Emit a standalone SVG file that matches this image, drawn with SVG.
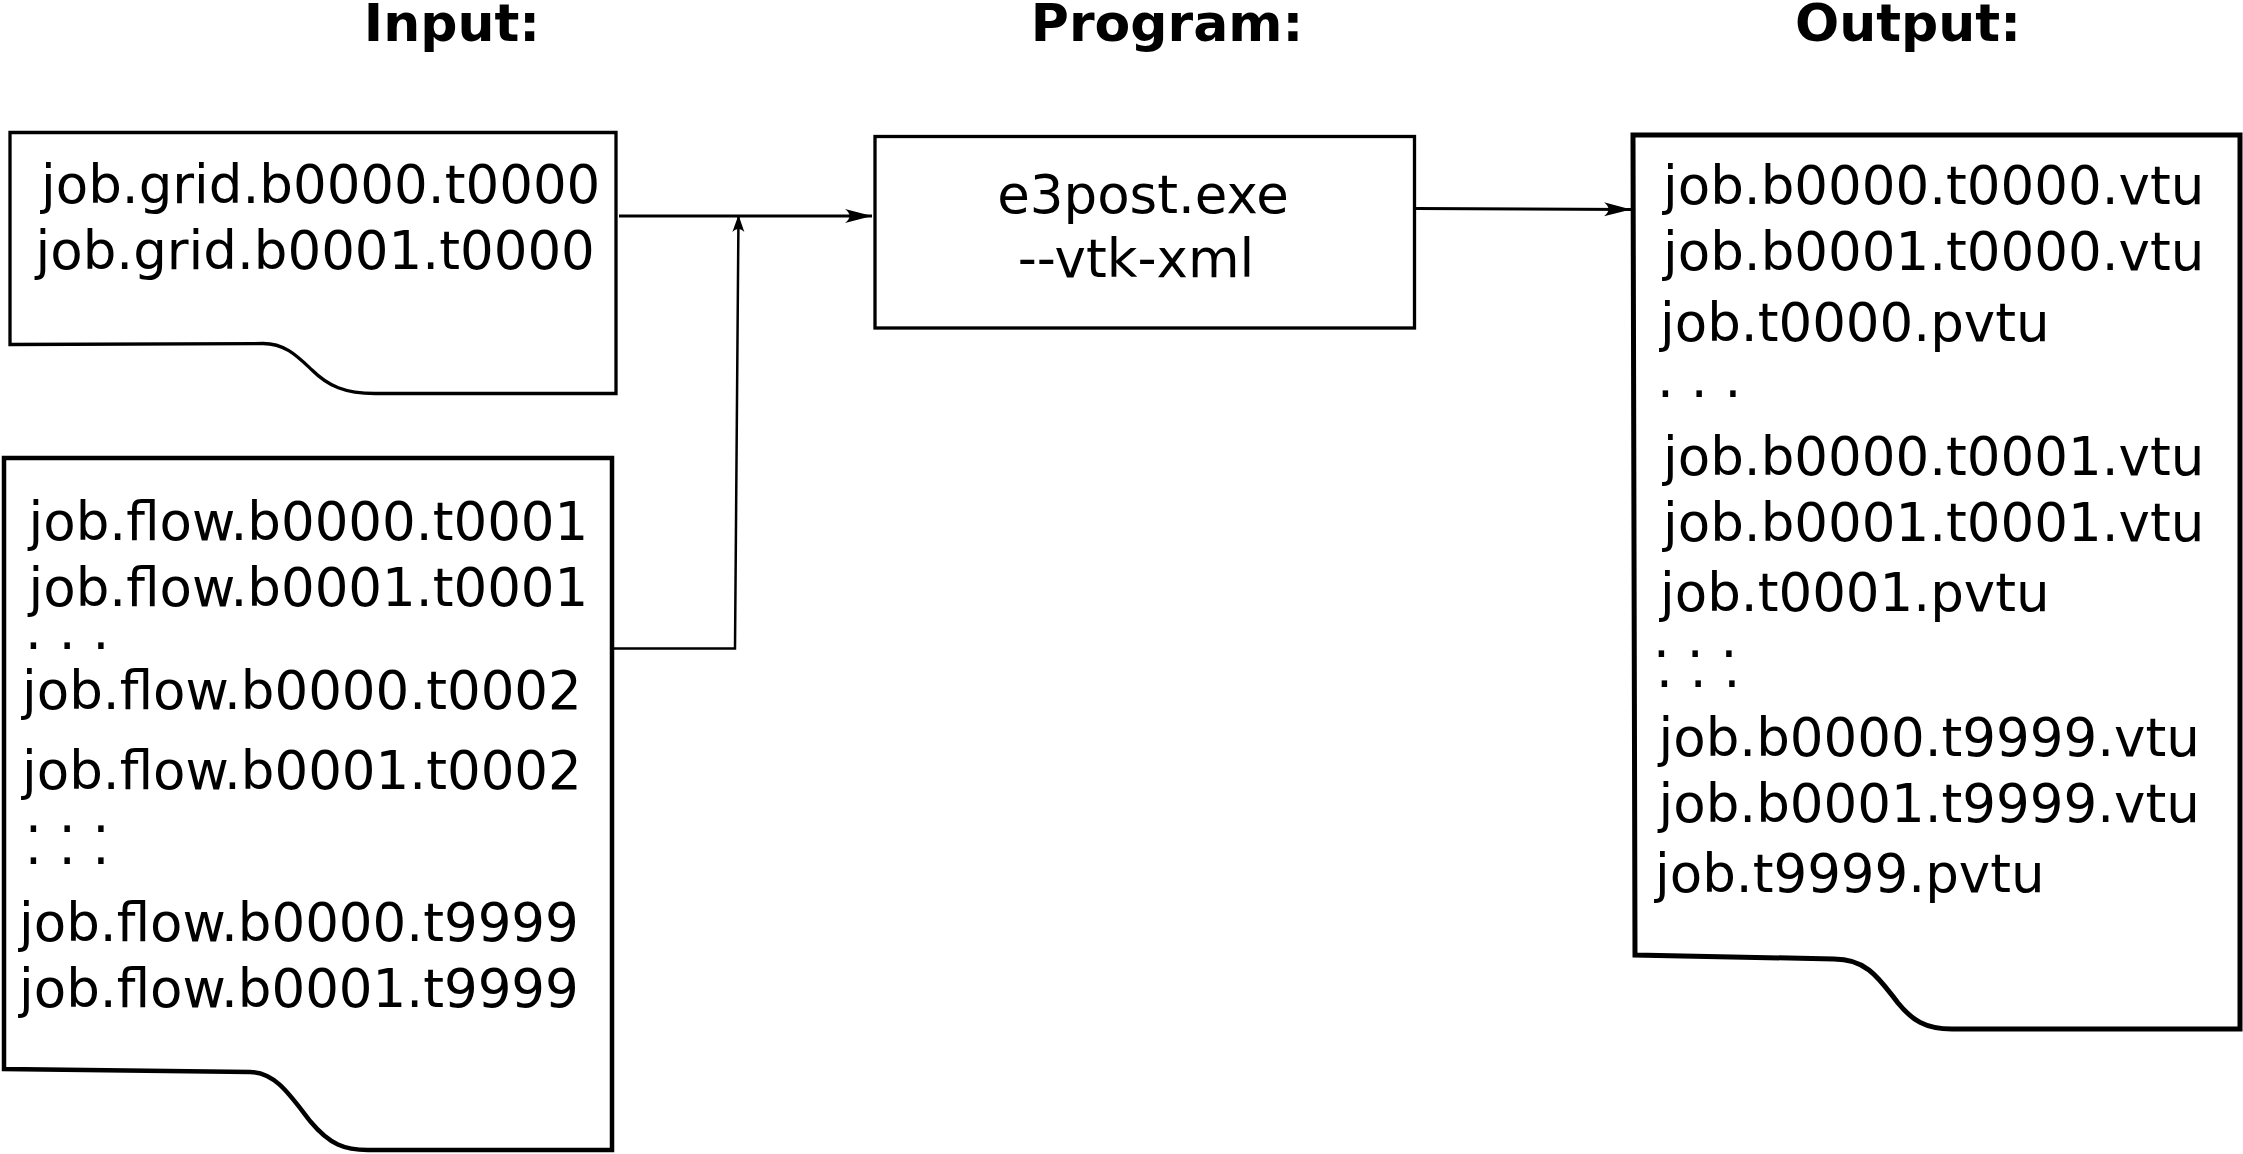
<svg xmlns="http://www.w3.org/2000/svg" width="2243" height="1154" viewBox="0 0 2243 1154">
<style>
  .t { font-family: "DejaVu Sans", "Liberation Sans", sans-serif; font-size: 53px; fill: #000; }
  .h { font-family: "DejaVu Sans", "Liberation Sans", sans-serif; font-size: 52px; font-weight: bold; fill: #000; text-anchor: middle; }
  .box { fill: #fff; stroke: #000; stroke-linejoin: miter; }
  .conn { fill: none; stroke: #000; }
</style>
<defs>
  <marker id="arrowL" viewBox="-30 -10 32 20" markerWidth="32" markerHeight="20" refX="0" refY="0" orient="auto" markerUnits="userSpaceOnUse" overflow="visible">
    <path d="M0,0 L-27,-7 C-21,-2.5 -21,2.5 -27,7 Z" fill="#000"/>
  </marker>
  <marker id="arrowS" viewBox="-20 -8 22 16" markerWidth="22" markerHeight="16" refX="0" refY="0" orient="auto" markerUnits="userSpaceOnUse" overflow="visible">
    <path d="M0,0 L-17,-6 C-13,-2 -13,2 -17,6 Z" fill="#000"/>
  </marker>
</defs>
<rect width="2243" height="1154" fill="#fff"/>

<g id="titles">
  <text class="h" x="452" y="41">Input:</text>
  <text class="h" x="1167" y="41">Program:</text>
  <text class="h" x="1908" y="41">Output:</text>
</g>

<g id="connectors">
  <path class="conn" d="M619,216 H872" stroke-width="2.8" marker-end="url(#arrowL)"/>
  <path class="conn" d="M613,648.5 H735 L738.5,215" stroke-width="2.5" marker-end="url(#arrowS)"/>
  <path class="conn" d="M1416,208.5 L1631,209.5" stroke-width="2.8" marker-end="url(#arrowL)"/>
</g>

<g id="input-grid">
  <path class="box" stroke-width="3.3" d="M10,132.5 H616 V393.5 H375 C345,393.5 328,386 312,370 C297,356 285,343.5 263,343.5 L10,344.5 Z"/>
  <text class="t" x="41" y="203">job.grid.b0000.t0000</text>
  <text class="t" x="35.5" y="268.5">job.grid.b0001.t0000</text>
</g>

<g id="input-flow">
  <path class="box" stroke-width="4.5" d="M4,458 H612 V1150 H368 C345,1150 330,1145 310,1121 C290,1095 275,1072 250,1072 L4,1069 Z"/>
  <text class="t" x="28.5" y="539.5">job.flow.b0000.t0001</text>
  <text class="t" x="28.5" y="606">job.flow.b0001.t0001</text>
  <text class="t" x="25" y="649">. . .</text>
  <text class="t" x="22" y="709">job.flow.b0000.t0002</text>
  <text class="t" x="22" y="788.5">job.flow.b0001.t0002</text>
  <text class="t" x="25" y="832">. . .</text>
  <text class="t" x="25" y="863.5">. . .</text>
  <text class="t" x="19" y="941">job.flow.b0000.t9999</text>
  <text class="t" x="19" y="1007">job.flow.b0001.t9999</text>
</g>

<g id="program">
  <rect class="box" stroke-width="3.3" x="875" y="136.5" width="539.5" height="191.5"/>
  <text class="t" x="1143" y="213" font-size="52" text-anchor="middle">e3post.exe</text>
  <text class="t" x="1136" y="276.5" font-size="52" text-anchor="middle">--vtk-xml</text>
</g>

<g id="output">
  <path class="box" stroke-width="5" d="M1633,135 H2240 V1029 H1952 C1925,1029 1912,1020 1898,1003 C1880,980 1868,959 1834,959 L1635,955 Z"/>
  <text class="t" x="1663" y="204">job.b0000.t0000.vtu</text>
  <text class="t" x="1663" y="270">job.b0001.t0000.vtu</text>
  <text class="t" x="1660" y="341">job.t0000.pvtu</text>
  <text class="t" x="1657" y="396.5">. . .</text>
  <text class="t" x="1663" y="474.5">job.b0000.t0001.vtu</text>
  <text class="t" x="1663" y="540.5">job.b0001.t0001.vtu</text>
  <text class="t" x="1660" y="611">job.t0001.pvtu</text>
  <text class="t" x="1653" y="657">. . .</text>
  <text class="t" x="1656" y="686.5">. . .</text>
  <text class="t" x="1658.5" y="755.5">job.b0000.t9999.vtu</text>
  <text class="t" x="1658.5" y="822">job.b0001.t9999.vtu</text>
  <text class="t" x="1655" y="891.5">job.t9999.pvtu</text>
</g>
</svg>
